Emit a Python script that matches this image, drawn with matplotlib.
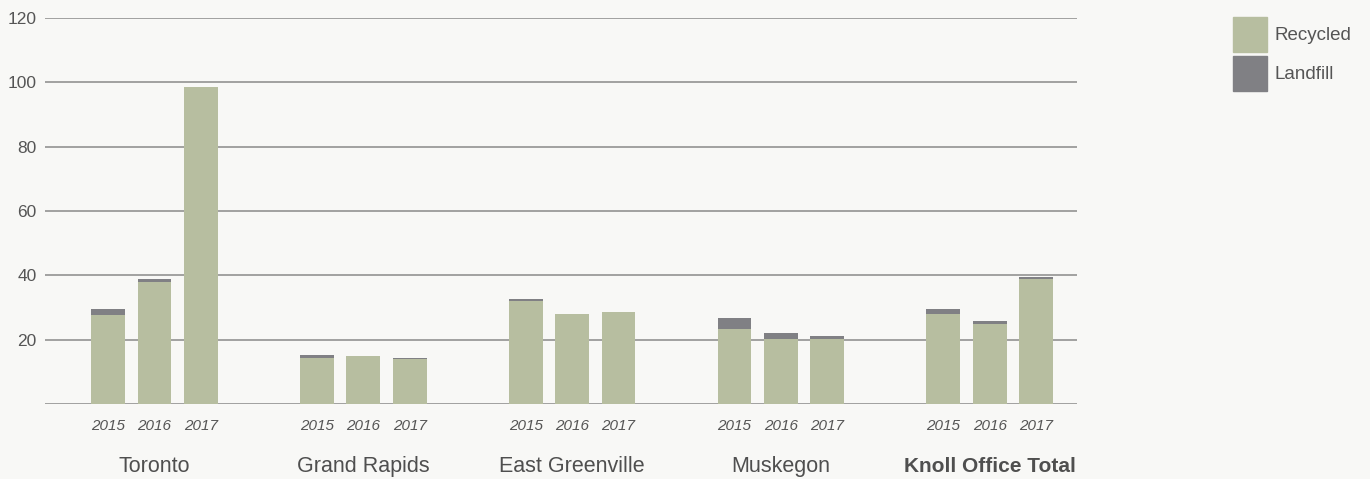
import matplotlib

matplotlib.use("Agg")
import matplotlib.pyplot as plt
import numpy as np
from matplotlib.patches import Patch
from matplotlib.transforms import blended_transform_factory

plt.rcParams["font.family"] = ["Liberation Sans", "DejaVu Sans"]

SITES = ["Toronto", "Grand Rapids", "East Greenville", "Muskegon", "Knoll Office Total"]
YEARS = ["2015", "2016", "2017"]
RECYCLED = [
    [27.7, 37.9, 98.5],
    [14.3, 14.9, 14.0],
    [32.0, 28.0, 28.6],
    [23.3, 20.2, 20.3],
    [28.0, 24.9, 38.9],
]
LANDFILL = [
    [1.9, 1.0, 0.0],
    [0.9, 0.0, 0.3],
    [0.6, 0.0, 0.0],
    [3.4, 1.9, 0.9],
    [1.5, 0.9, 0.6],
]

BG = "#f8f8f6"
C_REC = "#b7bea0"
C_LAND = "#808084"
TXT = "#555555"
GROUP_STEP = 4.5

fig = plt.figure(figsize=(13.7, 4.79), dpi=100, facecolor=BG)
ax = fig.add_axes([45 / 1370, 75 / 479, 1032 / 1370, 386 / 479], facecolor=BG)

rec = np.array(RECYCLED)
land = np.array(LANDFILL)
xs = np.array([[g * GROUP_STEP + j for j in range(len(YEARS))] for g in range(len(SITES))])

ax.bar(xs.ravel(), rec.ravel(), width=0.73, color=C_REC, zorder=2)
ax.bar(xs.ravel(), land.ravel(), bottom=rec.ravel(), width=0.73, color=C_LAND, zorder=2)

ax.set_xlim(-1.36, xs.max() + 0.88)
ax.set_ylim(0, 120)
yt = np.arange(0, 121, 20)
ax.set_yticks(yt)
ax.set_yticklabels([""] + [str(v) for v in yt[1:]], fontsize=12.5, color=TXT)
ax.yaxis.grid(True, color="#9a9a9a", lw=1.3, zorder=0)
ax.tick_params(axis="y", length=0, pad=6)
ax.set_xticks([])
for s in ax.spines.values():
    s.set_visible(False)

trans = blended_transform_factory(ax.transData, ax.transAxes)
for g, site in enumerate(SITES):
    for j, yr in enumerate(YEARS):
        ax.text(xs[g, j], -0.057, yr, transform=trans, ha="center", va="center",
                fontsize=11, style="italic", color=TXT)
    bold = site == "Knoll Office Total"
    ax.text(xs[g].mean(), -0.163, site, transform=trans, ha="center", va="center",
            fontsize=15 if bold else 15.5, color="#4f4f4f",
            fontweight="bold" if bold else "normal")

handles = [Patch(color=C_REC, label="Recycled"), Patch(color=C_LAND, label="Landfill")]
fig.legend(handles=handles, loc="upper left", bbox_to_anchor=(1233 / 1370, 1 - 17 / 479),
           frameon=False, fontsize=13.5, handlelength=1.81, handleheight=2.46,
           labelspacing=0.24, handletextpad=0.4, borderpad=0, borderaxespad=0,
           labelcolor=TXT)

fig.savefig("out.png", dpi=100, facecolor=BG)
